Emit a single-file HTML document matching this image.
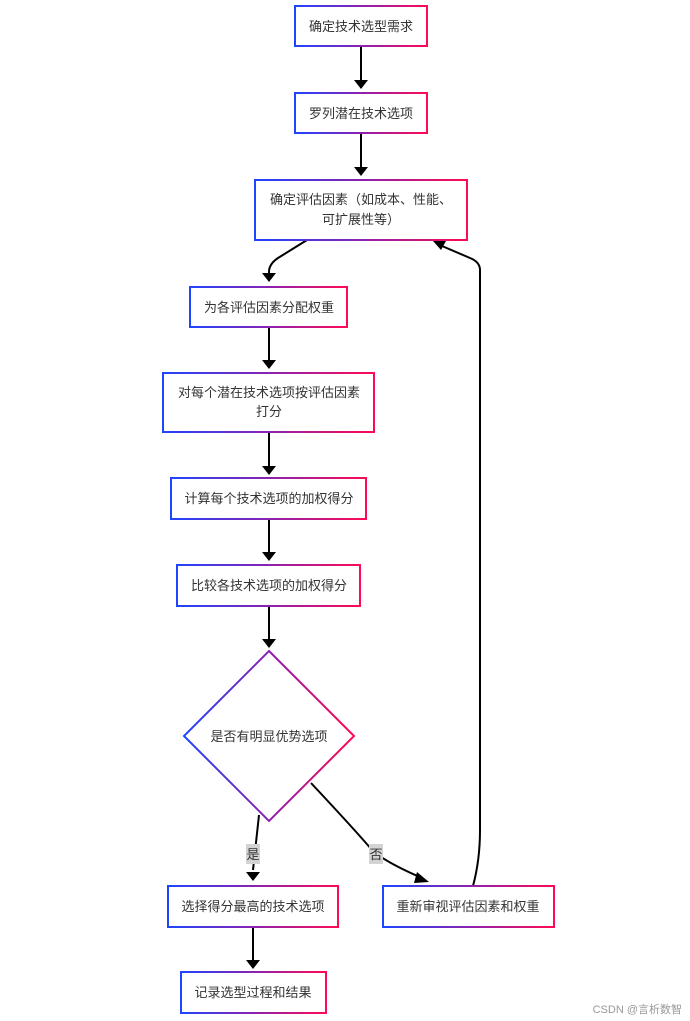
<!DOCTYPE html>
<html><head><meta charset="utf-8"><style>
html,body{margin:0;padding:0;background:#fff;}
svg{display:block;}
text{font-family:"Liberation Sans","Noto Sans CJK SC",sans-serif;font-size:13px;fill:#333;}
</style></head><body>
<svg width="690" height="1021" viewBox="0 0 690 1021" xmlns="http://www.w3.org/2000/svg">
<defs>
<linearGradient id="g" x1="0" y1="0" x2="1" y2="0">
<stop offset="0" stop-color="#1f45ff"/><stop offset="0.5" stop-color="#8a22b0"/><stop offset="1" stop-color="#ff0a54"/>
</linearGradient>
<marker id="a" viewBox="0 0 10 10" refX="9" refY="5" markerWidth="6" markerHeight="6" orient="auto-start-reverse" markerUnits="userSpaceOnUse">
<path d="M0,0 L10,5 L0,10 z" fill="#000"/>
</marker>
</defs>
<g fill="none" stroke="#000" stroke-width="2">
<path d="M361,46 V88" marker-end="url(#a)" style="marker-end:none"/>
<path d="M361,46 V82"/><path d="M354,80 L361,89 L368,80z" fill="#000" stroke="none"/>
<path d="M361,133 V169"/><path d="M354,167 L361,176 L368,167z" fill="#000" stroke="none"/>
<path d="M307,240 L278,258 Q269,264 269,272 V276"/><path d="M262,273 L269,282 L276,273z" fill="#000" stroke="none"/>
<path d="M269,327 V362"/><path d="M262,360 L269,369 L276,360z" fill="#000" stroke="none"/>
<path d="M269,432 V468"/><path d="M262,466 L269,475 L276,466z" fill="#000" stroke="none"/>
<path d="M269,519 V554"/><path d="M262,552 L269,561 L276,552z" fill="#000" stroke="none"/>
<path d="M269,606 V641"/><path d="M262,639 L269,648 L276,639z" fill="#000" stroke="none"/>
<path d="M259,815 L253,870"/><path d="M246,872 L253,881 L260,872z" fill="#000" stroke="none"/>
<path d="M311,783 Q355,830 372,850 Q385,862 422,878"/><path d="M417,872 L429,882 L414,883z" fill="#000" stroke="none"/>
<path d="M253,927 V962"/><path d="M246,960 L253,969 L260,960z" fill="#000" stroke="none"/>
<path d="M473,886 Q480,860 480,830 V270 Q480,262 470,258 L442,246"/><path d="M433,241 L446,241 L441,250z" fill="#000" stroke="none"/>
</g>
<g stroke="url(#g)" stroke-width="2" fill="#fff">
<rect x="295" y="6" width="132" height="40"/>
<rect x="295" y="93" width="132" height="40"/>
<rect x="255" y="180" width="212" height="60"/>
<rect x="190" y="287" width="157" height="40"/>
<rect x="163" y="373" width="211" height="59"/>
<rect x="171" y="478" width="195" height="41"/>
<rect x="177" y="565" width="183" height="41"/>
<path d="M269,651 L354,736 L269,821 L184,736 Z"/>
<rect x="168" y="886" width="170" height="41"/>
<rect x="383" y="886" width="171" height="41"/>
<rect x="181" y="972" width="145" height="41"/>
</g>
<rect x="246" y="844" width="14" height="20" fill="#d3d3d3"/>
<rect x="369" y="844" width="14" height="20" fill="#d3d3d3"/>
<g text-anchor="middle">
<text x="361" y="31">确定技术选型需求</text>
<text x="361" y="118">罗列潜在技术选项</text>
<text x="361" y="204">确定评估因素（如成本、性能、</text>
<text x="361" y="224">可扩展性等）</text>
<text x="269" y="312">为各评估因素分配权重</text>
<text x="269" y="397">对每个潜在技术选项按评估因素</text>
<text x="269" y="416">打分</text>
<text x="269" y="503">计算每个技术选项的加权得分</text>
<text x="269" y="590">比较各技术选项的加权得分</text>
<text x="269" y="741">是否有明显优势选项</text>
<text x="253" y="859">是</text>
<text x="376" y="859">否</text>
<text x="253" y="911">选择得分最高的技术选项</text>
<text x="468" y="911">重新审视评估因素和权重</text>
<text x="253" y="997">记录选型过程和结果</text>
</g>
<text x="682" y="1013" text-anchor="end" style="font-size:11px;fill:#999">CSDN @言析数智</text>
</svg>
</body></html>
